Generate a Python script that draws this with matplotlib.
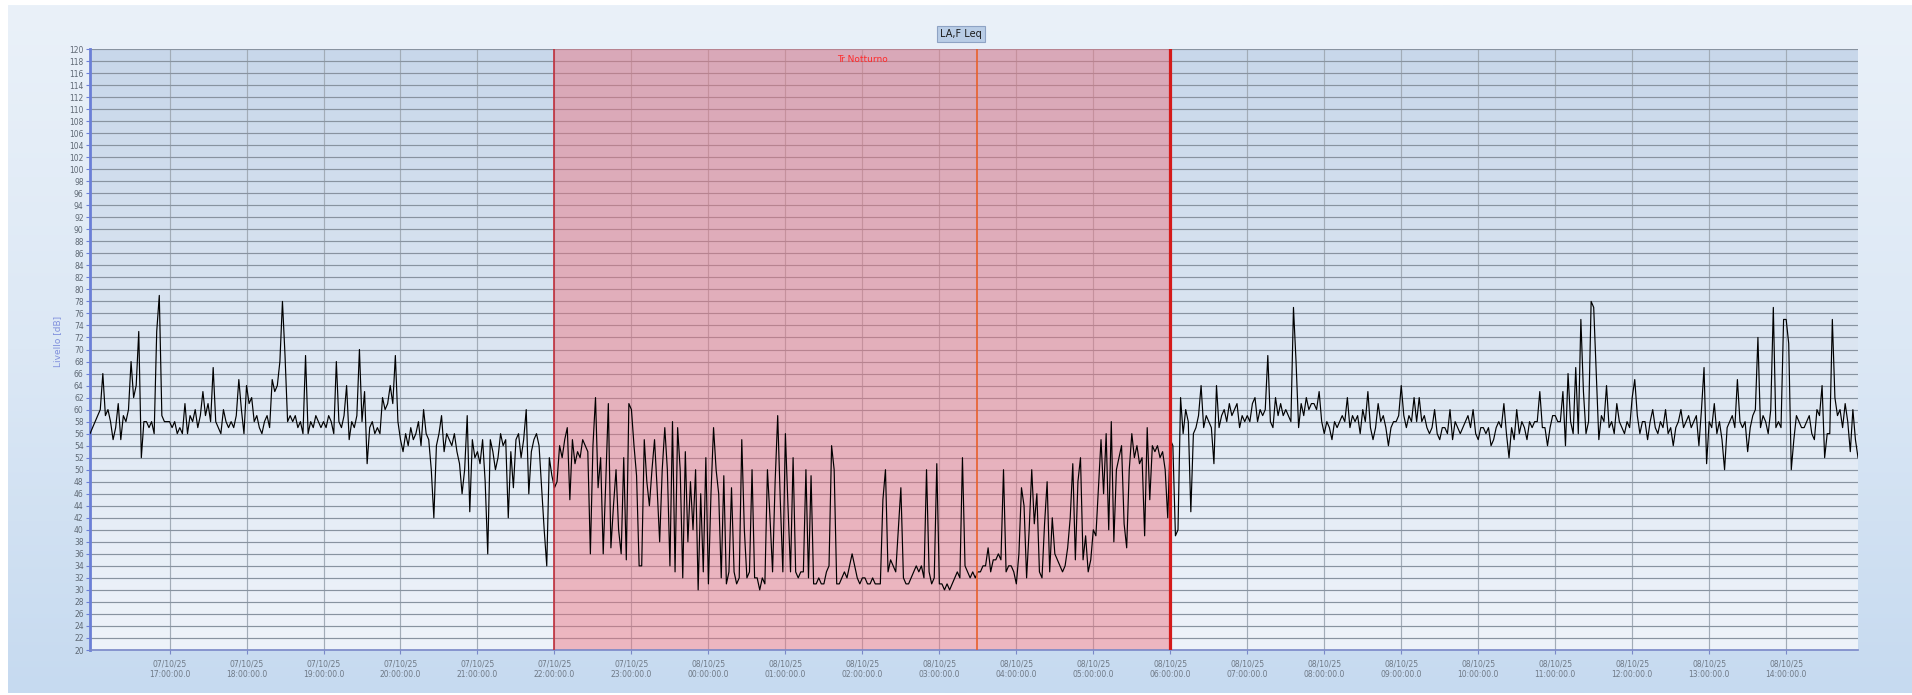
import numpy as np
import pandas as pd
import matplotlib
matplotlib.use("Agg")
import matplotlib.pyplot as plt
import matplotlib.dates as mdates
from matplotlib.colors import LinearSegmentedColormap

# LA,F Leq levels in dB, one sample every 2 minutes from 07/10/25 15:58
leq_1558 = [56, 57, 58, 59, 60, 66, 59, 60, 58, 55, 57, 61, 55, 59, 58, 60, 68, 62, 64, 73,
            52, 58, 58, 57, 58, 56, 73, 79, 59, 58, 58]
leq_1700 = [58, 57, 58, 56, 57, 56, 61, 56, 59, 58, 60, 57, 59, 63, 59, 61, 58, 67, 58, 57,
            56, 60, 58, 57, 58, 57, 59, 65, 60, 56]
leq_1800 = [64, 61, 62, 58, 59, 57, 56, 58, 59, 57, 65, 63, 64, 68, 78, 69, 58, 59, 58, 59,
            57, 58, 56, 69, 56, 58, 57, 59, 58, 57]
leq_1900 = [58, 57, 59, 58, 56, 68, 58, 57, 59, 64, 55, 58, 57, 59, 70, 58, 63, 51, 57, 58,
            56, 57, 56, 62, 60, 61, 64, 61, 69, 58]
leq_2000 = [55, 53, 56, 54, 57, 55, 56, 58, 54, 60, 56, 55, 50, 42, 54, 56, 59, 53, 56, 55,
            54, 56, 53, 51, 46, 50, 59, 43, 55, 52]
leq_2100 = [53, 51, 55, 48, 36, 55, 53, 50, 52, 56, 54, 55, 42, 53, 47, 55, 56, 52, 55, 60,
            46, 53, 55, 56, 54, 47, 40, 34, 52, 49]
leq_2200 = [47, 48, 54, 52, 55, 57, 45, 55, 51, 53, 52, 55, 54, 53, 36, 54, 62, 47, 52, 36,
            48, 61, 37, 44, 50, 40, 36, 52, 35, 61]
leq_2300 = [60, 54, 49, 34, 34, 55, 48, 44, 50, 55, 47, 38, 50, 57, 50, 34, 58, 33, 57, 50,
            32, 53, 38, 48, 40, 50, 30, 46, 33, 52]
leq_0000 = [31, 46, 57, 50, 46, 32, 49, 31, 33, 47, 33, 31, 32, 55, 40, 32, 33, 50, 32, 32,
            30, 32, 31, 50, 42, 33, 48, 59, 45, 33]
leq_0100 = [56, 44, 33, 52, 33, 32, 33, 33, 50, 32, 49, 31, 31, 32, 31, 31, 33, 34, 54, 50,
            31, 31, 32, 33, 32, 34, 36, 34, 32, 31]
leq_0200 = [32, 32, 31, 31, 32, 31, 31, 31, 45, 50, 33, 35, 34, 33, 40, 47, 32, 31, 31, 32,
            33, 34, 33, 34, 32, 50, 33, 31, 32, 51]
leq_0300 = [31, 31, 30, 31, 30, 31, 32, 33, 32, 52, 34, 33, 32, 33, 32, 33, 33, 34, 34, 37,
            33, 35, 35, 36, 35, 50, 33, 34, 34, 33]
leq_0400 = [31, 36, 47, 44, 32, 40, 50, 41, 46, 33, 32, 41, 48, 33, 42, 36, 35, 34, 33, 34,
            37, 42, 51, 35, 48, 52, 35, 39, 33, 35]
leq_0500 = [40, 39, 47, 55, 46, 56, 40, 58, 38, 50, 52, 54, 41, 37, 50, 56, 52, 54, 51, 52,
            39, 57, 45, 54, 53, 54, 52, 53, 50, 42]
leq_0600 = [55, 54, 39, 40, 62, 56, 60, 58, 43, 56, 57, 59, 64, 57, 59, 58, 57, 51, 64, 57,
            59, 60, 58, 61, 59, 60, 61, 57, 59, 58]
leq_0700 = [59, 58, 61, 62, 58, 60, 59, 60, 69, 58, 57, 62, 59, 61, 59, 60, 59, 58, 77, 68,
            57, 61, 59, 62, 60, 61, 61, 60, 63, 58]
leq_0800 = [56, 58, 57, 55, 58, 57, 58, 59, 58, 62, 57, 59, 58, 59, 56, 60, 58, 63, 57, 55,
            57, 61, 58, 59, 57, 54, 57, 58, 58, 59]
leq_0900 = [64, 59, 57, 59, 58, 62, 58, 62, 58, 59, 57, 56, 57, 60, 56, 55, 57, 57, 56, 60,
            55, 58, 57, 56, 57, 58, 59, 57, 60, 56]
leq_1000 = [55, 57, 57, 56, 57, 54, 55, 57, 58, 57, 61, 56, 52, 57, 55, 60, 56, 58, 57, 55,
            58, 57, 58, 58, 63, 57, 57, 54, 57, 59]
leq_1100 = [59, 58, 58, 63, 54, 66, 58, 56, 67, 56, 75, 63, 56, 58, 78, 77, 66, 55, 59, 58,
            64, 57, 58, 56, 61, 58, 57, 56, 58, 57]
leq_1200 = [62, 65, 59, 56, 58, 58, 55, 58, 60, 57, 56, 58, 57, 60, 56, 57, 54, 57, 58, 60,
            57, 58, 59, 57, 58, 59, 54, 60, 67, 51]
leq_1300 = [58, 57, 61, 56, 58, 55, 50, 57, 58, 59, 57, 65, 58, 57, 58, 53, 57, 59, 60, 72,
            57, 59, 58, 56, 60, 77, 57, 58, 57, 75]
leq_1400 = [75, 71, 50, 55, 59, 58, 57, 57, 58, 59, 56, 55, 60, 59, 64, 52, 56, 56, 75, 62,
            59, 60, 57, 61, 58, 53, 60, 55, 52]

series_start = "2025-10-07 15:58"
sample_step = "2min"
view_start = "2025-10-07 15:58"
view_end = "2025-10-08 14:56"
night_start = "2025-10-07 22:00"
night_end = "2025-10-08 06:00"
cursor_time = "2025-10-08 03:29"
tick_first = "2025-10-07 17:00"
tick_last = "2025-10-08 14:00"
night_label = "Tr Notturno"
series_label = "LA,F Leq"
y_label = "Livello [dB]"
y_min, y_max, y_step = 20, 120, 2

blocks = [leq_1558, leq_1700, leq_1800, leq_1900, leq_2000, leq_2100, leq_2200, leq_2300,
          leq_0000, leq_0100, leq_0200, leq_0300, leq_0400, leq_0500, leq_0600, leq_0700,
          leq_0800, leq_0900, leq_1000, leq_1100, leq_1200, leq_1300, leq_1400]
leq = np.concatenate([np.asarray(b, dtype=float) for b in blocks])
times = pd.date_range(series_start, periods=len(leq), freq=sample_step)

tick_times = pd.date_range(tick_first, tick_last, freq="1h")
tick_labels = [t.strftime("%d/%m/%y\n%H:%M:%S.0") for t in tick_times]

W, H = 1912, 695
fig = plt.figure(figsize=(W / 100, H / 100), dpi=100, facecolor="white")

# window background: soft vertical gradient
bg = fig.add_axes([8 / W, 2 / H, 1 - 8 / W, 1 - 7 / H], zorder=-10)
grad = np.linspace(0, 1, 256).reshape(-1, 1)
bg.imshow(grad, aspect="auto", origin="upper", extent=[0, 1, 0, 1],
          cmap=LinearSegmentedColormap.from_list("win", ["#eaf1f9", "#dce8f5", "#c6daf0"]))
bg.set_axis_off()

ax = fig.add_axes([90 / W, 45 / H, (1858 - 90) / W, 601 / H])
ax.plot(times, leq, color="black", lw=0.85, zorder=4)

x0 = mdates.date2num(pd.Timestamp(view_start))
x1 = mdates.date2num(pd.Timestamp(view_end))
ax.imshow(grad, aspect="auto", origin="upper", extent=[x0, x1, y_min, y_max], zorder=0,
          cmap=LinearSegmentedColormap.from_list("area", ["#c8d7ea", "#dce6f2", "#eef3fa"]))

ax.axvspan(pd.Timestamp(night_start), pd.Timestamp(night_end), color=(0.93, 0.45, 0.50),
           alpha=0.47, lw=0, zorder=2.5)
ax.axvline(pd.Timestamp(night_start), color="#c0303c", lw=1.2, zorder=5)
ax.axvline(pd.Timestamp(night_end), color="#d41a1a", lw=2.3, zorder=5)
ax.axvline(pd.Timestamp(cursor_time), color="#e8602c", lw=1.2, zorder=5)

night_mid = pd.Timestamp(night_start) + (pd.Timestamp(night_end) - pd.Timestamp(night_start)) / 2
ax.text(night_mid, 118.3, night_label, color="#ff2a2a", fontsize=6.5,
        ha="center", va="center", zorder=6)

ax.set_xlim(x0, x1)
ax.set_ylim(y_min, y_max)
ax.set_yticks(np.arange(y_min, y_max + 1, y_step))
ax.set_xticks(mdates.date2num(tick_times))
ax.set_xticklabels(tick_labels)

ax.grid(axis="y", color="#8893a0", lw=0.85, zorder=2)
ax.grid(axis="x", color="#a2acb7", lw=0.85, zorder=2)
ax.set_axisbelow(True)

for side in ("top", "right"):
    ax.spines[side].set_visible(False)
ax.spines["left"].set_color("#6b7fd6")
ax.spines["left"].set_linewidth(2)
ax.spines["bottom"].set_color("#7a88c8")
ax.spines["bottom"].set_linewidth(1.2)

ax.tick_params(axis="y", length=3, width=0.8, color="#6b7fd6", labelsize=5.5,
               labelcolor="#5f6975", pad=1.5)
ax.tick_params(axis="x", length=3, width=0.8, color="#7a88c8", labelsize=5.5,
               labelcolor="#6f7986", pad=4)

fig.text(961 / W, 1 - 34 / H, series_label, ha="center", va="center", fontsize=7,
         color="#1a1a1a",
         bbox=dict(boxstyle="square,pad=0.3", fc="#b9cde6", ec="#8ea3c4", lw=0.8))
fig.text(58 / W, 1 - 341 / H, y_label, rotation=90, ha="center", va="center",
         fontsize=6.5, color="#8090dd")

fig.savefig("out.png", dpi=100, facecolor=fig.get_facecolor())
